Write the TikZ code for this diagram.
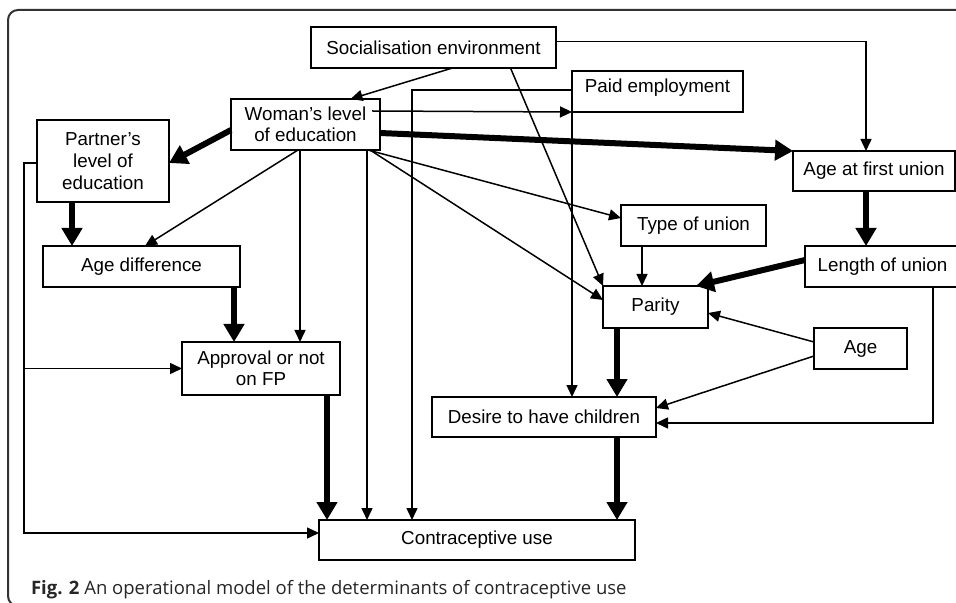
\documentclass[tikz,border=0pt]{standalone}
\usepackage{fontspec}
\setmainfont{Liberation Sans}
\newfontfamily\capfont{Open Sans}
\usetikzlibrary{arrows.meta,calc}

\begin{document}
\begin{tikzpicture}[x=0.5pt, y=-0.5pt, >={Triangle[length=6pt,width=5.5pt]},
    font=\fontsize{9.4}{11}\selectfont, align=center,
    box/.style={rectangle, draw, line width=0.75pt, inner sep=0pt, outer sep=0pt},
    link/.style={line width=0.75pt, ->},
    strong/.style={line width=3pt, -{Triangle[length=9pt,width=10pt]}}]
    \useasboundingbox (0,0) rectangle (956,603);
    \draw[line width=1pt, rounded corners=5pt, black!80] (8,10) rectangle (990,606);

    % boxes
    \node[box, minimum width=122.5pt, minimum height=20.5pt] (soc) at (433.5,47.5) {Socialisation environment};
    \node[box, minimum width=74.5pt, minimum height=25.5pt, font=\fontsize{9.4}{10.5}\selectfont] (woman) at (305.5,124.5) {Woman’s level\\of education};
    \node[box, minimum width=66pt, minimum height=41pt] (partner) at (103,161) {Partner’s\\level of\\education};
    \node[box, minimum width=98.5pt, minimum height=20.5pt] (agediff) at (141.5,266.5) {Age difference};
    \node[box, minimum width=79pt, minimum height=26.5pt, font=\fontsize{9.4}{10.5}\selectfont] (approval) at (261,368.5) {Approval or not\\on FP};
    \node[box, minimum width=158pt, minimum height=20pt] (contra) at (477,540) {Contraceptive use};
    \node[box, minimum width=85.5pt, minimum height=20.5pt, text depth=6pt] (paid) at (657.5,91.5) {Paid employment};
    \node[box, minimum width=81pt, minimum height=20pt] (agefirst) at (874,171) {Age at first union};
    \node[box, minimum width=72.5pt, minimum height=20.5pt] (type) at (693.5,225.5) {Type of union};
    \node[box, minimum width=77.5pt, minimum height=20.5pt] (length) at (882.5,266.5) {Length of union};
    \node[box, minimum width=52.5pt, minimum height=21pt] (parity) at (655.5,307) {Parity};
    \node[box, minimum width=46.5pt, minimum height=20.5pt] (age) at (860.5,348.5) {Age};
    \node[box, minimum width=112pt, minimum height=20pt] (desire) at (544,417) {Desire to have children};

    % socialisation environment
    \path[link] ($(soc.south)+(19,0)$) edge ($(woman.north)+(45,0)$)
                ($(soc.south)+(77,0)$) edge (parity.north west);
    \draw[link] ($(soc.east)+(0,-6)$) -| ($(agefirst.north)+(-8,0)$);

    % woman's level of education
    \path[link] ($(woman.east)+(-8,-13.5)$) edge (paid.south west)
                ($(woman.south)+(-7.5,0)$) edge ($(agediff.north)+(3.5,0)$)
                ($(woman.south east)+(-12,0)$) edge ($(type.west)+(0,-7.5)$)
                ($(woman.south east)+(-10,0)$) edge ($(parity.west)+(0,-7)$);
    \draw[link] ($(woman.south)+(-5.5,0)$) coordinate (w1) -- (w1 |- approval.north);
    \draw[link] ($(woman.south)+(61.5,0)$) coordinate (w2) -- (w2 |- contra.north);
    \path[strong] ($(woman.west)+(0,5.5)$) edge ($(partner.east)+(0,2)$)
                  ($(woman.east)+(0,8.5)$) edge (agefirst.north west);

    % partner
    \draw[strong] ($(partner.south)+(-31,0)$) coordinate (p1) -- (p1 |- agediff.north);
    \draw[link] ($(partner.west)+(0,2)$) -- ++(-13,0) |- (approval.west);
    \draw[link] ($(partner.west)+(0,2)$) -- ++(-13,0) |- ($(contra.west)+(0,-7)$);

    \draw[strong] ($(agediff.south east)+(-6,0)$) coordinate (d1) -- (d1 |- approval.north);
    \draw[strong] ($(approval.south east)+(-13,0)$) coordinate (a1) -- (a1 |- contra.north);

    % paid employment
    \draw[link] ($(paid.west)+(0,-1.5)$) -| ($(contra.north)+(-65,0)$);
    \draw[link] (paid.south west) -- (paid.south west |- desire.north);

    % union
    \draw[strong] ($(agefirst.south)+(-8,0)$) coordinate (u1) -- (u1 |- length.north);
    \path[strong] ($(length.west)+(0,-6.5)$) edge ($(parity.north east)+(-12,0)$);
    \draw[link] ($(type.south west)+(21,0)$) coordinate (t1) -- (t1 |- parity.north);
    \draw[link] ($(length.south)+(50.5,0)$) |- ($(desire.east)+(0,6)$);

    % age
    \path[link] ($(age.west)+(0,-6.5)$) edge ($(parity.east)+(0,6)$)
                ($(age.west)+(0,7.5)$) edge ($(desire.east)+(0,-9)$);

    \draw[strong] ($(parity.south west)+(14,0)$) coordinate (r1) -- (r1 |- desire.north);
    \draw[strong] (r1 |- desire.south) -- (r1 |- contra.north);

    \node[anchor=base west, align=left, text=black!85, font=\capfont\fontsize{9.25}{11}\selectfont] (cap) at (24,594)
        {\textbf{Fig. 2} An operational model of the determinants of contraceptive use};
\end{tikzpicture}
\end{document}
